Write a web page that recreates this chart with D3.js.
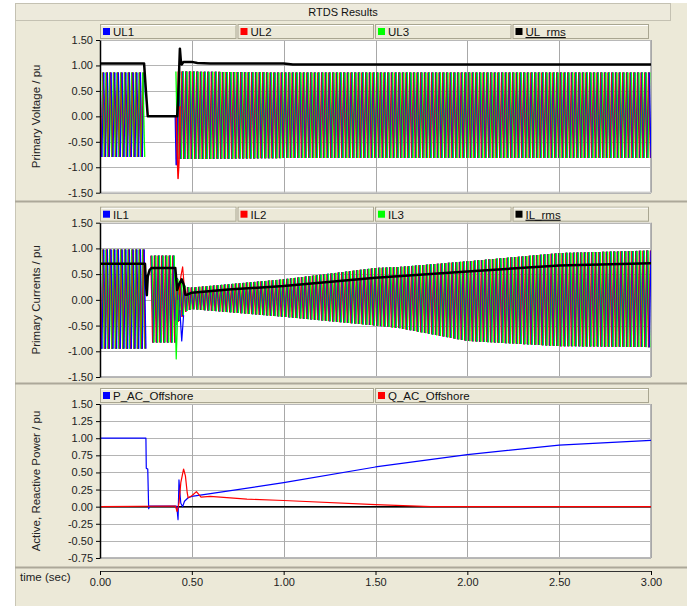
<!DOCTYPE html>
<html>
<head>
<meta charset="utf-8">
<script src="https://cdn.jsdelivr.net/npm/d3@7"></script>
<style>
  body { margin: 0; background: #fff; }
  svg { display: block; font-family: "Liberation Sans", Arial, sans-serif; }
</style>
</head>
<body>
<div id="chart"></div>
<script>
// RTDS results: three stacked panels sharing a time axis (sec)

// --- voltage panel: band (envelope) of the three phase waveforms
var vEnvT  = [0, 0.245, 0.246, 0.41, 0.411, 0.5, 1.0, 3.0];
var vEnvHi = [0.86, 0.86, 0, 0, 0.88, 0.88, 0.86, 0.86];
var vEnvLo = [-0.80, -0.80, 0, 0, -0.84, -0.84, -0.82, -0.82];
// transient spikes on single phases
var ul1SpikeT = [0.41, 0.415, 0.42, 0.425];
var ul1SpikeV = [0, -0.95, -0.55, 0.4];
var ul2SpikeT = [0.415, 0.42, 0.425, 0.43, 0.435];
var ul2SpikeV = [0, -0.7, -1.22, -0.9, 0.2];
// UL_rms
var vRmsT = [0, 0.24, 0.25, 0.26, 0.42, 0.425, 0.435, 0.44, 0.445, 0.455, 0.5, 0.53, 0.6, 1.0, 1.05, 3.0];
var vRmsV = [1.04, 1.04, 0.5, 0.0, 0.0, 0.3, 1.33, 1.1, 1.02, 1.07, 1.07, 1.05, 1.04, 1.04, 1.02, 1.02];

// --- current panel
var iEnvT  = [0, 0.25, 0.251, 0.275, 0.276, 0.41, 0.411, 0.47, 0.5, 1.0, 1.5, 1.63, 2.0, 2.5, 3.0];
var iEnvHi = [0.98, 0.98, 0, 0, 0.86, 0.86, 0.45, 0.25, 0.24, 0.40, 0.62, 0.64, 0.75, 0.91, 0.96];
var iEnvLo = [-0.95, -0.95, 0, 0, -0.83, -0.83, -0.5, -0.22, -0.18, -0.33, -0.50, -0.55, -0.80, -0.90, -0.92];
var il3SpikeT = [0.41, 0.415, 0.42, 0.425];
var il3SpikeV = [-0.4, -1.15, -0.6, 0];
var il2SpikeT = [0.43, 0.44, 0.45, 0.46];
var il2SpikeV = [0.1, 0.45, 0.64, 0.2];
var il1SpikeT = [0.435, 0.445, 0.455];
var il1SpikeV = [-0.2, -0.8, -0.3];
// IL_rms
var iRmsT = [0, 0.245, 0.25, 0.255, 0.26, 0.27, 0.28, 0.41, 0.42, 0.43, 0.445, 0.455, 0.465, 0.475, 0.5, 0.7, 1.0, 1.5, 2.0, 2.5, 3.0];
var iRmsV = [0.70, 0.70, 0.3, 0.09, 0.45, 0.58, 0.62, 0.62, 0.19, 0.30, 0.40, 0.30, 0.10, 0.10, 0.14, 0.20, 0.27, 0.43, 0.55, 0.67, 0.71];

// --- power panel
var pT = [0, 0.25, 0.252, 0.26, 0.265, 0.27, 0.415, 0.42, 0.425, 0.43, 0.435, 0.44, 0.45, 0.46, 0.48, 0.5, 1.0, 1.5, 2.0, 2.5, 3.0];
var pV = [1.0, 1.0, 0.56, 0.55, -0.03, 0.01, 0.01, -0.05, -0.19, 0.39, 0.2, 0.05, 0.0, 0.08, 0.13, 0.15, 0.35, 0.58, 0.76, 0.9, 0.97];
var qT = [0, 0.41, 0.42, 0.43, 0.44, 0.455, 0.465, 0.475, 0.48, 0.5, 0.525, 0.55, 0.6, 0.8, 1.0, 1.5, 1.8, 3.0];
var qV = [0.0, 0.01, -0.07, 0.05, 0.35, 0.55, 0.45, 0.2, 0.13, 0.16, 0.22, 0.14, 0.15, 0.11, 0.09, 0.03, 0.0, 0.0];

var timeTicks = [0, 0.5, 1.0, 1.5, 2.0, 2.5, 3.0];
var uTicks = [-1.5, -1.0, -0.5, 0, 0.5, 1.0, 1.5];
var pTicks = [-0.75, -0.5, -0.25, 0, 0.25, 0.5, 0.75, 1.0, 1.25, 1.5];

var width = 687, height = 606;
var left = 100, right = 651;
var period = 0.02;   // 50 Hz carrier
var beige = "#ECE9D8";

var svg = d3.select("#chart").append("svg")
    .attr("width", width)
    .attr("height", height);

// frame
svg.append("rect").attr("x", 15).attr("y", 3).attr("width", width - 15).attr("height", height - 3).attr("fill", beige);
svg.append("line").attr("x1", 15.5).attr("x2", 15.5).attr("y1", 3).attr("y2", height).attr("stroke", "#C9C6B6");

// title bar
svg.append("rect").attr("x", 15.5).attr("y", 3.5).attr("width", 655).attr("height", 17)
    .attr("fill", "#EDEADC").attr("stroke", "#C4C1B2");
svg.append("text").attr("x", 343).attr("y", 16).attr("text-anchor", "middle")
    .attr("font-size", 11).attr("fill", "#111").text("RTDS Results");

var x = d3.scaleLinear().domain([0, 3]).range([left, right]);

// each phase swings between the band limits once per half cycle;
// swings of all phases are drawn in time order so no colour stays on top
function band(g, y, envT, envHi, envLo) {
    var hi = d3.scaleLinear().domain(envT).range(envHi);
    var lo = d3.scaleLinear().domain(envT).range(envLo);
    var colors = ["#0000FF", "#FF0000", "#00FF00"];
    var segs = [];
    colors.forEach(function (c, p) {
        var prev = null, up = p % 2 === 0;
        for (var t = p * period / 3; t <= 3; t += period / 2) {
            if (hi(t) - lo(t) < 0.05) { prev = null; continue; }
            var pt = [t, up ? hi(t) : lo(t)];
            if (prev) segs.push({ a: prev, b: pt, c: c });
            prev = pt;
            up = !up;
        }
    });
    segs.sort(function (s1, s2) { return s1.a[0] - s2.a[0]; });
    g.selectAll("line.wave").data(segs).enter().append("line")
        .attr("x1", function (s) { return x(s.a[0]); })
        .attr("y1", function (s) { return y(s.a[1]); })
        .attr("x2", function (s) { return x(s.b[0]); })
        .attr("y2", function (s) { return y(s.b[1]); })
        .attr("stroke", function (s) { return s.c; })
        .attr("stroke-width", 1.3);
}

function trace(g, y, T, V, color, w) {
    var pts = T.map(function (t, i) { return [t, V[i]]; });
    g.append("path").datum(pts)
        .attr("d", d3.line().x(function (d) { return x(d[0]); }).y(function (d) { return y(d[1]); }))
        .attr("fill", "none").attr("stroke", color).attr("stroke-width", w)
        .attr("stroke-linejoin", "round");
}

var panels = [
    { top: 22, bottom: 201, plotTop: 40, plotBottom: 192.7, domain: [-1.5, 1.5], ticks: uTicks,
      label: "Primary Voltage / pu", legend: [["UL1", "#0000FF"], ["UL2", "#FF0000"], ["UL3", "#00FF00"], ["UL_rms", "#000"]] },
    { top: 202, bottom: 383, plotTop: 222.7, plotBottom: 377, domain: [-1.5, 1.5], ticks: uTicks,
      label: "Primary Currents / pu", legend: [["IL1", "#0000FF"], ["IL2", "#FF0000"], ["IL3", "#00FF00"], ["IL_rms", "#000"]] },
    { top: 384, bottom: 567, plotTop: 404, plotBottom: 558, domain: [-0.75, 1.5], ticks: pTicks,
      label: "Active, Reactive Power / pu", legend: [["P_AC_Offshore", "#0000FF"], ["Q_AC_Offshore", "#FF0000"]] }
];

panels.forEach(function (p, i) {
    var y = d3.scaleLinear().domain(p.domain).range([p.plotBottom, p.plotTop]);
    var g = svg.append("g");

    // separator under the panel
    g.append("line").attr("x1", 15).attr("x2", width).attr("y1", p.bottom + 0.5).attr("y2", p.bottom + 0.5)
        .attr("stroke", "#ACA899").attr("stroke-width", 2);

    // plot area
    g.append("rect").attr("x", left).attr("y", p.plotTop).attr("width", right - left)
        .attr("height", p.plotBottom - p.plotTop).attr("fill", "#fff");

    // grid
    g.append("g").selectAll("line").data(p.ticks).enter().append("line")
        .attr("x1", left).attr("x2", right)
        .attr("y1", function (d) { return Math.round(y(d)) + 0.5; })
        .attr("y2", function (d) { return Math.round(y(d)) + 0.5; })
        .attr("stroke", "#B4B4B4");
    g.append("g").selectAll("line").data(timeTicks).enter().append("line")
        .attr("x1", function (d) { return Math.round(x(d)) + 0.5; })
        .attr("x2", function (d) { return Math.round(x(d)) + 0.5; })
        .attr("y1", p.plotTop).attr("y2", p.plotBottom)
        .attr("stroke", "#A8A8A8");
    g.append("rect").attr("x", left + 0.5).attr("y", p.plotTop + 0.5).attr("width", right - left - 1)
        .attr("height", p.plotBottom - p.plotTop - 1).attr("fill", "none").attr("stroke", "#B8B8B8");

    // data
    var clipId = "clip" + i;
    svg.append("clipPath").attr("id", clipId).append("rect")
        .attr("x", left).attr("y", p.plotTop).attr("width", right - left).attr("height", p.plotBottom - p.plotTop);
    var d = g.append("g").attr("clip-path", "url(#" + clipId + ")");
    if (i === 0) {
        band(d, y, vEnvT, vEnvHi, vEnvLo);
        trace(d, y, ul1SpikeT, ul1SpikeV, "#0000FF", 1.5);
        trace(d, y, ul2SpikeT, ul2SpikeV, "#FF0000", 1.5);
        trace(d, y, vRmsT, vRmsV, "#000", 2.5);
    } else if (i === 1) {
        band(d, y, iEnvT, iEnvHi, iEnvLo);
        trace(d, y, il1SpikeT, il1SpikeV, "#0000FF", 1.2);
        trace(d, y, il2SpikeT, il2SpikeV, "#FF0000", 1.2);
        trace(d, y, il3SpikeT, il3SpikeV, "#00FF00", 1.2);
        trace(d, y, iRmsT, iRmsV, "#000", 2.5);
    } else {
        d.append("line").attr("x1", left).attr("x2", right)
            .attr("y1", y(0)).attr("y2", y(0)).attr("stroke", "#000").attr("stroke-width", 1.5);
        trace(d, y, pT, pV, "#0000FF", 1.2);
        trace(d, y, qT, qV, "#FF0000", 1.2);
    }

    // y axis
    var ax = g.append("g").attr("transform", "translate(" + left + ",0)")
        .call(d3.axisLeft(y).tickValues(p.ticks).tickSize(4).tickSizeOuter(0)
            .tickFormat(function (v) { return v.toFixed(2); }));
    ax.select(".domain").attr("stroke", "#000").attr("stroke-width", 1.5);
    ax.selectAll("text").attr("font-size", 11).attr("font-family", "Liberation Sans, Arial, sans-serif").attr("fill", "#222");

    g.append("text")
        .attr("transform", "translate(40," + ((p.plotTop + p.plotBottom) / 2) + ") rotate(-90)")
        .attr("text-anchor", "middle").attr("font-size", 11.5).attr("fill", "#222").text(p.label);

    // legend cells
    var cw = (650 - left) / p.legend.length;
    var ly = p.plotTop - 16;
    p.legend.forEach(function (item, k) {
        var cx = left + k * cw;
        g.append("rect").attr("x", cx + 0.5).attr("y", ly + 0.5).attr("width", cw - 2).attr("height", 14)
            .attr("fill", "#ECE9D8").attr("stroke", "#A9A691");
        g.append("line").attr("x1", cx + 1.5).attr("x2", cx + cw - 2).attr("y1", ly + 1.5).attr("y2", ly + 1.5)
            .attr("stroke", "#fff");
        g.append("rect").attr("x", cx + 3).attr("y", ly + 4).attr("width", 7).attr("height", 7).attr("fill", item[1]);
        var t = g.append("text").attr("x", cx + 13).attr("y", ly + 12).attr("font-size", 11.5)
            .attr("fill", "#111").text(item[0]);
        if (k === 3) t.attr("text-decoration", "underline");
    });
});

// time axis
var xa = svg.append("g").attr("transform", "translate(0,571)")
    .call(d3.axisBottom(x).tickValues(timeTicks).tickSize(4).tickSizeOuter(4)
        .tickFormat(function (v) { return v.toFixed(2); }));
xa.select(".domain").attr("stroke", "#333");
xa.selectAll("text").attr("font-size", 11).attr("font-family", "Liberation Sans, Arial, sans-serif").attr("fill", "#222");
svg.append("text").attr("x", 20).attr("y", 581).attr("font-size", 11.5).attr("fill", "#222").text("time (sec)");
</script>
</body>
</html>
